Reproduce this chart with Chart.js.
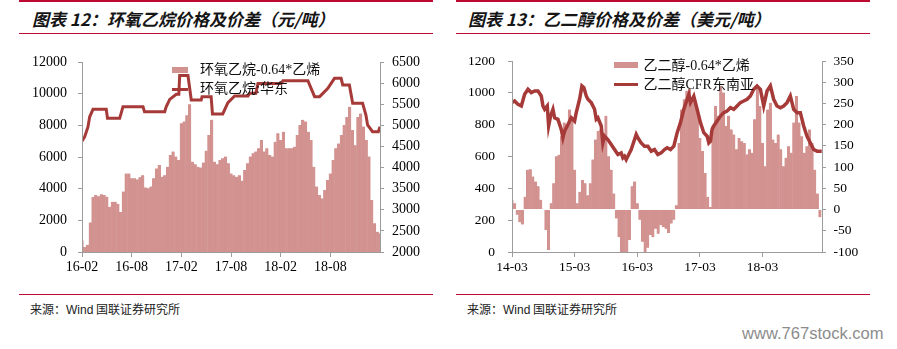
<!DOCTYPE html>
<html><head><meta charset="utf-8">
<script src="https://cdn.jsdelivr.net/npm/chart.js@4"></script>
<style>
html,body{margin:0;padding:0;background:#fff;}
body{width:897px;height:349px;position:relative;overflow:hidden;font-family:"Liberation Serif","Noto Sans CJK SC",serif;}
.rule{position:absolute;height:1.5px;background:#BE0A32;}
.title{position:absolute;top:8px;font-family:"Noto Sans CJK SC",sans-serif;font-weight:bold;font-style:italic;font-size:17px;line-height:22px;color:#151515;white-space:nowrap;}
.src{position:absolute;top:301px;font-size:12px;line-height:16px;color:#222;font-family:"Noto Sans CJK SC",sans-serif;white-space:nowrap;}
.src .w{font-family:"Liberation Sans Narrow","Liberation Sans",sans-serif;}
.box{position:absolute;top:40px;width:440px;height:250px;}
.lg{position:absolute;font-size:14px;line-height:18px;white-space:nowrap;color:#111;font-family:"Liberation Serif","Noto Sans CJK SC",serif;}
.sw{position:absolute;}
#wm{position:absolute;left:742px;top:325px;font-family:"Liberation Sans",sans-serif;font-size:16px;line-height:18px;color:#8c8c8c;white-space:nowrap;transform-origin:0 50%;}
</style>
</head>
<body>
<div class="rule" style="left:19px;width:414px;top:0px"></div>
<div class="rule" style="left:19px;width:414px;top:32.5px"></div>
<div class="rule" style="left:19px;width:414px;top:293.5px"></div>
<div class="rule" style="left:456px;width:414px;top:0px"></div>
<div class="rule" style="left:456px;width:414px;top:32.5px"></div>
<div class="rule" style="left:456px;width:414px;top:293.5px"></div>

<div class="title" style="left:32px">图表 12：环氧乙烷价格及价差（元/吨）</div>
<div class="title" style="left:468px">图表 13：乙二醇价格及价差（美元/吨）</div>

<div class="box" style="left:0px"><canvas id="c1" width="440" height="250"></canvas></div>
<div class="box" style="left:450px"><canvas id="c2" width="440" height="250"></canvas></div>

<div class="sw" id="sw1a" style="left:172px;top:66.5px;width:16px;height:6px"></div>
<div class="lg" style="left:200px;top:61px">环氧乙烷-0.64*乙烯</div>
<div class="sw" id="sw1b" style="left:172px;top:87.5px;width:16px;height:3px"></div>
<div class="lg" style="left:200px;top:80px">环氧乙烷:华东</div>

<div class="sw" id="sw2a" style="left:613.5px;top:61.5px;width:24px;height:6.5px"></div>
<div class="lg" style="left:643.5px;top:56.5px">乙二醇-0.64*乙烯</div>
<div class="sw" id="sw2b" style="left:613.5px;top:83px;width:24px;height:3px"></div>
<div class="lg" style="left:643.5px;top:75.5px">乙二醇CFR东南亚</div>

<div class="src" style="left:30px">来源：<span class="w">Wind</span> 国联证券研究所</div>
<div class="src" style="left:467px">来源：<span class="w">Wind</span> 国联证券研究所</div>
<div id="wm">www.767stock.com</div>

<script>
// ---------- Figure 12: ethylene oxide (months counted from 2016-02) ----------
const eoTickLabels = ['16-02','16-08','17-02','17-08','18-02','18-08'];
const eoTickEvery = 6;          // months between tick labels
const eoBarStep = 1/3;          // months between spread samples
const eoXMax = 36;
// 环氧乙烷-0.64*乙烯 (right axis)
const eoSpread = [2280,2120,2170,2700,3300,3350,3320,3370,3350,3310,
3070,3190,3190,3140,2950,3430,3860,3860,3745,3745,
3720,3770,3820,3530,3510,3550,3745,3980,4060,3780,
3820,4020,4300,4380,4260,4180,5050,5090,5240,5500,
4140,4080,4020,4000,4120,4400,4770,5130,4140,4080,
4180,4220,4260,4100,3860,3820,3780,3820,3690,3940,
4100,4260,4340,4380,4455,4650,4380,4455,4300,4260,
4610,4810,4650,4850,4455,4455,4455,4495,4770,5010,
5130,5090,4850,4650,4020,3550,3350,3270,3470,3705,
3860,4180,4455,4570,4770,5010,5200,5440,4890,4530,
5200,5280,4970,4650,4260,3230,2680,2480,2440];
// 环氧乙烷:华东 (left axis) – months and prices at the corners of the step line
const eoPriceMonths = [0,0.33,0.72,0.93,1.33,2.93,3.08,4.55,4.75,4.95,7.37,7.55,9.99,10.18,10.6,11.39,11.7,11.8,12.8,13.2,14.4,14.5,15.6,15.76,17.0,17.63,18.44,20.05,20.25,21.0,21.26,24.07,24.28,27.29,28.1,28.7,29.1,29.7,30.5,31.3,31.5,32.3,32.7,33.9,34.3,34.5,35.1,35.8,36];
const eoPrice = [7000,7280,7900,8540,9010,9010,8440,8440,8800,9180,9180,8860,8860,9180,9640,9960,9960,11140,11140,9600,9600,9810,9810,8720,8720,9430,9850,9850,10020,10020,10650,10650,10820,10820,9810,9810,10020,10340,10970,10970,10550,10550,9390,9390,8650,8020,7600,7600,7910];

// ---------- Figure 13: ethylene glycol (months counted from 2014-03) ----------
const megTickLabels = ['14-03','15-03','16-03','17-03','18-03'];
const megTickEvery = 12;
const megBarStep = 1/2;
const megXMax = 59.4;
// 乙二醇-0.64*乙烯 (right axis)
const megSpread = [23,15,-12,-30,-35,30,94,95,78,66,
55,23,0,-48,-95,15,62,126,129,173,
205,201,236,213,94,15,42,70,62,34,
62,118,165,185,189,181,221,126,94,38,
-21,-65,-100,-110,-105,-72,55,66,15,-24,
-76,-100,-90,-60,-65,-45,-57,-37,-41,-45,
-55,-33,-24,10,157,236,260,280,284,260,
260,228,169,138,86,30,6,197,244,221,
291,276,197,221,189,177,142,169,161,157,
130,142,134,213,291,244,157,102,236,252,
165,157,177,142,102,122,149,134,205,268,
205,173,134,149,189,157,94,38,-18];
// 乙二醇CFR东南亚 (left axis)
const megPriceMonths = [0,0.51,1.15,1.79,2.42,3.06,3.70,4.34,4.98,5.61,5.93,6.25,6.76,7.02,7.40,7.85,8.17,8.80,9.44,9.76,10.08,10.72,11.36,11.99,12.31,12.95,13.40,13.78,14.23,14.55,15.18,15.82,16.14,16.46,17.10,17.41,17.73,18.37,19.01,19.65,20.29,20.92,21.24,21.56,21.88,22.20,22.84,23.48,23.80,24.11,24.75,25.39,26.03,26.67,27.30,27.94,28.58,29.22,29.73,30.37,31.01,31.65,32.28,32.92,33.24,33.88,34.20,34.83,35.47,36.11,36.75,37.39,37.71,38.02,38.34,38.66,39.30,39.94,40.57,41.21,41.85,42.49,43.13,43.76,44.40,45.04,45.68,46.32,46.95,47.59,48.23,48.87,49.51,50.14,50.78,51.42,52.06,52.70,53.33,53.97,54.61,55.25,55.89,56.52,57.16,57.80,58.44,59.08,59.35];
const megPrice = [939,949,928,918,992,1023,1002,1012,1012,981,918,897,918,792,855,897,844,834,771,718,760,802,844,823,876,960,1044,1033,981,960,939,897,834,844,792,686,728,707,676,644,613,623,592,602,581,602,644,707,739,718,686,665,665,634,644,613,623,644,655,644,665,750,813,897,928,990,940,980,897,813,750,728,686,697,771,792,823,855,876,886,907,897,918,939,949,960,981,1023,1044,1023,918,1012,1044,960,918,907,918,939,981,897,876,876,792,728,686,644,634,634,634];

const BAR = '#D29290';
const LINE = '#A63A38';
const AX = '#9c9c9c';
['sw1a','sw2a'].forEach(id=>document.getElementById(id).style.background=BAR);
['sw1b','sw2b'].forEach(id=>document.getElementById(id).style.background=LINE);

function makeChart(id, o){
  const barPts = o.bars.map((v,i)=>({x:i*o.barStep, y:v}));
  const linePts = o.lineX.map((m,i)=>({x:m, y:o.lineY[i]}));
  const tickFont = {family:'Liberation Serif', size:o.fontSize};
  const grid = (len)=>({drawOnChartArea:false, tickLength:len, color:AX, offset:false, z:1});
  const border = {color:AX, width:1, z:1};
  return new Chart(document.getElementById(id), {
    type:'bar',
    data:{datasets:[
      {type:'line', label:o.lineLabel, data:linePts, yAxisID:'y', borderColor:LINE, backgroundColor:LINE,
       borderWidth:o.lineWidth, pointRadius:0, tension:0, fill:false, order:0, borderJoinStyle:'miter'},
      {type:'bar', label:o.barLabel, data:barPts, yAxisID:'y1', backgroundColor:BAR,
       borderWidth:{left:0.6,right:0.6,top:0,bottom:0}, borderColor:BAR, borderSkipped:'start',
       barThickness:'flex', barPercentage:1, categoryPercentage:1, order:1, clip:0}
    ]},
    options:{
      responsive:false, animation:false, events:[],
      layout:{padding:{top:o.padTop,left:0,right:0,bottom:0}},
      plugins:{legend:{display:false}, tooltip:{enabled:false}},
      scales:{
        x:{type:'linear', min:0, max:o.xMax, offset:false,
           afterBuildTicks:s=>{ s.ticks = o.tickLabels.map((t,k)=>({value:k*o.tickEvery})); },
           ticks:{autoSkip:false, maxRotation:0, padding:2, color:'#000', font:tickFont,
                  callback:v=>{ const k=Math.round(v/o.tickEvery); return o.tickLabels[k] ?? ''; }},
           grid:grid(5), border:border,
           afterFit:s=>{ s.height = 38; }},
        y:{position:'left', min:o.yMin, max:o.yMax,
           ticks:{stepSize:o.yStep, padding:o.leftPad, color:'#000', font:tickFont, callback:v=>String(v)},
           grid:grid(4), border:border,
           afterFit:s=>{ s.width = o.leftW; }},
        y1:{position:'right', min:o.y1Min, max:o.y1Max,
           ticks:{stepSize:o.y1Step, padding:o.rightPad, color:'#000', font:tickFont, callback:v=>String(v)},
           grid:grid(4), border:border,
           afterFit:s=>{ s.width = o.rightW; }}
      }
    }
  });
}

makeChart('c1', {
  bars:eoSpread, barStep:eoBarStep, lineX:eoPriceMonths, lineY:eoPrice,
  barLabel:'环氧乙烷-0.64*乙烯', lineLabel:'环氧乙烷:华东',
  xMax:eoXMax, tickLabels:eoTickLabels, tickEvery:eoTickEvery,
  yMin:0, yMax:12000, yStep:2000, y1Min:2000, y1Max:6500, y1Step:500,
  padTop:22, leftW:82, rightW:60, leftPad:11, rightPad:8, fontSize:14, lineWidth:3
});
makeChart('c2', {
  bars:megSpread, barStep:megBarStep, lineX:megPriceMonths, lineY:megPrice,
  barLabel:'乙二醇-0.64*乙烯', lineLabel:'乙二醇CFR东南亚',
  xMax:megXMax, tickLabels:megTickLabels, tickEvery:megTickEvery,
  yMin:0, yMax:1200, yStep:200, y1Min:-100, y1Max:350, y1Step:50,
  padTop:20.5, leftW:62, rightW:68, leftPad:13, rightPad:7.5, fontSize:13.5, lineWidth:3.5
});

const wm = document.getElementById('wm');
const ww = wm.getBoundingClientRect().width;
if (ww > 0) wm.style.transform = 'scaleX(' + (141.6/ww) + ')';
</script>
</body></html>
